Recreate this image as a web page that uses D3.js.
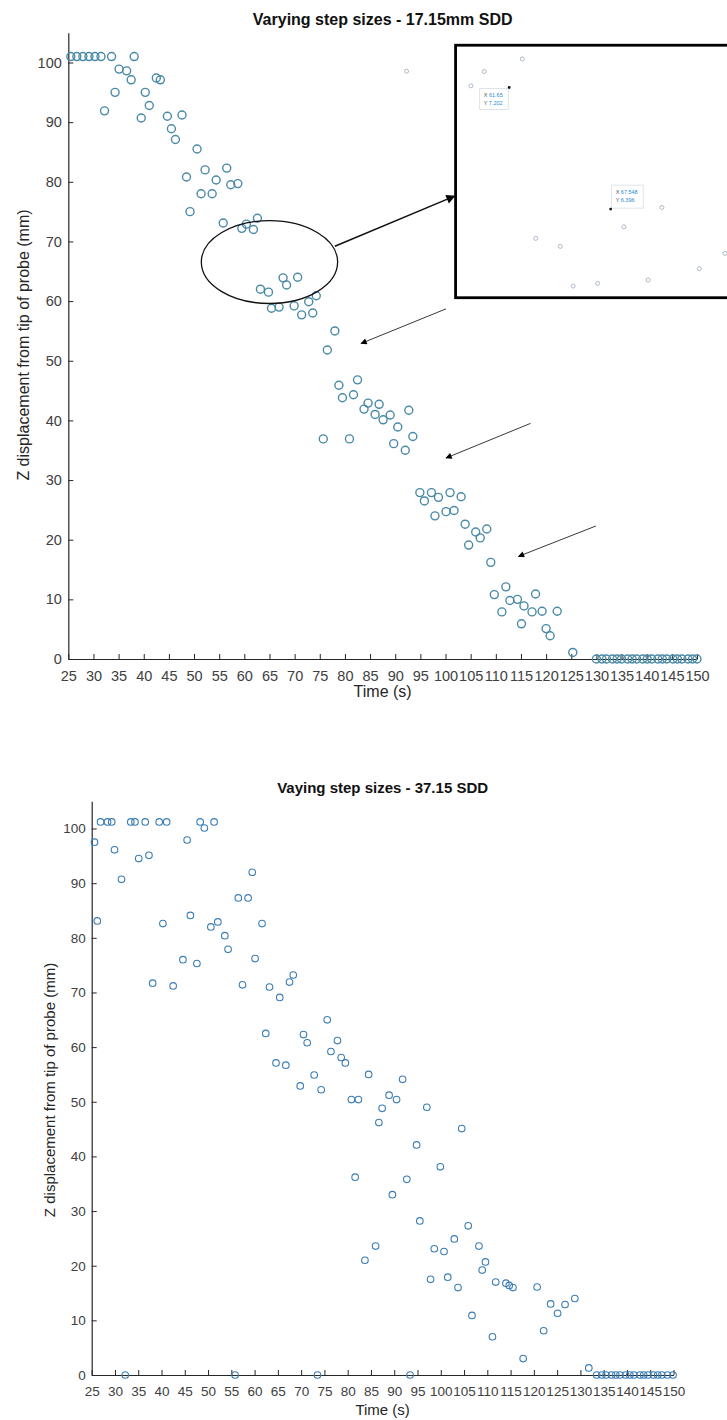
<!DOCTYPE html>
<html>
<head>
<meta charset="utf-8">
<script src="https://cdn.jsdelivr.net/npm/d3@7"></script>
<style>
  html, body { margin: 0; padding: 0; background: #fff; }
  svg { display: block; }
  text { font-family: "Liberation Sans", Arial, Helvetica, sans-serif; }
</style>
</head>
<body>
<svg id="fig" width="727" height="1420"></svg>
<script>
// ---- axis ticks ----
const timeTicks = [25, 30, 35, 40, 45, 50, 55, 60, 65, 70, 75, 80, 85, 90, 95, 100,
                   105, 110, 115, 120, 125, 130, 135, 140, 145, 150];
const depthTicks = [0, 10, 20, 30, 40, 50, 60, 70, 80, 90, 100];

// ---- measurements: [time (s), Z displacement (mm)] ----
const sdd17 = [
  [25.5,101],[26.7,101],[27.9,101],[29.1,101],[30.3,101],[31.5,101],[33.6,101],[38.1,101],
  [35.1,98.9],[36.6,98.6],[37.5,97.1],[34.3,95.0],[32.2,91.9],
  [42.5,97.4],[43.3,97.1],[40.3,95.0],[41.1,92.8],[39.5,90.7],[44.7,91.0],[47.6,91.2],[45.5,88.9],[46.3,87.1],
  [50.6,85.5],[48.5,80.8],[52.2,82.0],[56.5,82.3],[54.4,80.3],[57.3,79.5],[58.7,79.7],[51.4,78.0],[53.6,78.0],[49.2,75.0],
  [55.8,73.1],[59.5,72.2],[60.4,72.9],[61.8,72.0],[62.6,73.9],
  [67.7,63.9],[70.6,64.0],[68.4,62.7],[63.2,62.0],[64.8,61.5],[74.3,60.9],[72.8,59.9],[65.4,58.8],[66.9,59.0],[69.9,59.2],[71.4,57.7],[73.6,58.0],
  [78.0,55.0],[76.5,51.8],[78.8,45.9],[82.5,46.8],[79.5,43.8],[81.7,44.3],[84.6,42.9],[86.8,42.7],[83.8,41.9],[86.0,41.0],
  [87.6,40.1],[89.0,40.9],[92.7,41.7],[90.5,38.9],[93.5,37.3],[89.7,36.1],[92.0,35.0],[75.7,36.9],[80.9,36.9],
  [94.9,27.9],[97.2,27.9],[100.9,27.9],[95.8,26.5],[98.6,27.1],[103.1,27.2],[97.9,24.0],[100.1,24.7],[101.7,24.9],
  [103.9,22.6],[106.0,21.3],[108.2,21.8],[106.9,20.3],[104.6,19.1],[109.0,16.2],
  [112.0,12.1],[109.7,10.8],[112.8,9.8],[114.3,10.0],[117.9,10.9],[115.6,8.9],[117.2,7.9],[119.2,8.0],[122.2,8.0],
  [111.2,7.9],[115.1,5.9],[120.0,5.1],[120.8,3.9],[125.3,1.1],
  [130.0,0],[131.1,0],[132.0,0],[133.2,0],[134.1,0],[135.0,0],[136.2,0],[137.1,0],[138.0,0],[139.2,0],[140.1,0],
  [141.0,0],[142.2,0],[143.1,0],[144.0,0],[145.2,0],[146.1,0],[147.0,0],[148.2,0],[149.1,0],[150.0,0]
];

const sdd37 = [
  [26.9,101.2],[28.4,101.2],[29.3,101.2],[33.4,101.2],[34.3,101.2],[36.5,101.2],[39.5,101.2],[41.1,101.2],[48.3,101.2],[51.3,101.2],
  [25.6,97.5],[29.9,96.1],[31.4,90.7],[35.1,94.5],[37.3,95.1],[26.2,83.1],[40.3,82.6],[38.1,71.7],[42.5,71.2],
  [45.5,97.9],[49.2,100.1],[46.2,84.1],[44.6,76.0],[47.6,75.3],[50.6,82.0],[52.1,82.9],[53.6,80.4],[54.3,77.9],
  [56.5,87.3],[58.6,87.3],[59.5,92.0],[57.4,71.4],[60.1,76.2],[61.6,82.6],
  [68.3,73.2],[67.5,71.9],[63.2,71.0],[65.4,69.1],[75.6,65.0],[62.4,62.5],[70.5,62.3],[71.3,60.8],[77.8,61.2],
  [76.4,59.2],[78.6,58.1],[79.5,57.1],[64.6,57.1],[66.7,56.7],[72.8,54.9],[84.5,55.0],[91.8,54.1],
  [69.8,52.9],[74.3,52.2],[80.8,50.4],[82.3,50.4],[81.6,36.2],[32.2,0],[55.8,0],[73.5,0],
  [88.9,51.2],[90.5,50.4],[87.4,48.8],[86.7,46.2],[97.0,49.0],[104.5,45.1],[94.8,42.1],[99.9,38.1],[92.7,35.8],
  [89.6,33.0],[95.5,28.2],[105.9,27.3],[102.9,24.9],[86.0,23.6],[83.7,21.0],[98.6,23.1],[100.7,22.6],[108.2,23.6],
  [109.6,20.7],[108.9,19.2],[97.8,17.5],[101.5,17.9],[103.7,16.0],[111.8,17.0],[114.0,16.8],[114.7,16.4],[115.5,16.0],
  [120.7,16.1],[106.7,10.9],[111.1,7.0],[123.6,13.0],[126.7,12.9],[128.8,14.0],[125.1,11.3],[122.1,8.1],[117.7,3.0],
  [131.8,1.3],[93.4,0],
  [133.5,0],[134.6,0],[135.5,0],[136.7,0],[137.6,0],[138.5,0],[139.7,0],[140.6,0],[141.5,0],[142.8,0],[143.6,0],
  [144.5,0],[145.7,0],[146.6,0],[147.5,0],[148.7,0],[149.9,0]
];

// ---- call-outs on the upper panel (in its data units) ----
const ellipseMark = { t: 65.0, z: 66.55, dt: 13.55, dz: 6.95 };
const zoomArrow = [[78.0, 69.2], [101.8, 77.6]];
const stepArrows = [
  [[100.1, 58.7], [83.2, 52.9]],
  [[116.9, 39.5], [100.1, 33.7]],
  [[129.9, 22.3], [114.5, 17.2]]
];
// frame of the magnified view; it runs past the right edge of the figure
const insetFrame = { t0: 102.0, t1: 158.0, z0: 60.57, z1: 102.9 };
// span of the upper panel's time axis covered by the magnified view's x range
const insetSpan = [102.0, 155.95];
const insetXDomain = [58.53, 74.31];
const insetYDomain = [5.809, 7.482];
const insetPts = [
  [62.41,7.391],[60.20,7.308],[59.42,7.213],[70.53,6.407],[68.32,6.279],[63.19,6.202],
  [64.62,6.149],[74.20,6.103],[72.70,6.001],[69.73,5.926],[65.37,5.886],[66.79,5.904],[55.68,7.310]
];
const dataTips = [
  { x: 61.65, y: 7.202, xs: "61.65", ys: "7.202" },
  { x: 67.548, y: 6.396, xs: "67.548", ys: "6.396" }
];

const svg = d3.select("#fig");

function panel(cfg) {
  const x = d3.scaleLinear().domain([25, 150]).range([cfg.left, cfg.right]);
  const y = d3.scaleLinear().domain([0, 105]).range([cfg.bottom, cfg.top]);
  const g = svg.append("g");

  const xAxis = g.append("g")
    .attr("transform", `translate(0,${cfg.bottom})`)
    .call(d3.axisBottom(x).tickValues(timeTicks).tickFormat(d3.format("d"))
      .tickSizeInner(-cfg.tick).tickSizeOuter(0).tickPadding(cfg.xPad));
  const yAxis = g.append("g")
    .attr("transform", `translate(${cfg.left},0)`)
    .call(d3.axisLeft(y).tickValues(depthTicks).tickFormat(d3.format("d"))
      .tickSizeInner(-cfg.tick).tickSizeOuter(0).tickPadding(cfg.yPad));
  [xAxis, yAxis].forEach(a => {
    a.select(".domain").attr("stroke", "#262626").attr("stroke-width", 1.2);
    a.selectAll(".tick line").attr("stroke", "#262626").attr("stroke-width", 1);
    a.selectAll(".tick text").attr("fill", "#404040")
      .style("font-size", cfg.tickFont + "px")
      .style("font-family", '"Liberation Sans", Arial, sans-serif');
  });

  g.append("g").selectAll("circle").data(cfg.data).join("circle")
    .attr("cx", d => x(d[0])).attr("cy", d => y(d[1]))
    .attr("r", cfg.r)
    .attr("fill", "none").attr("stroke", cfg.color).attr("stroke-width", cfg.sw);

  const cx = (cfg.left + cfg.right) / 2;
  g.append("text").attr("x", cx).attr("y", cfg.titleY)
    .attr("text-anchor", "middle").attr("font-weight", "bold")
    .style("font-size", cfg.titleFont + "px").attr("fill", "#111").text(cfg.title);
  g.append("text").attr("x", cx).attr("y", cfg.xLabelY)
    .attr("text-anchor", "middle").style("font-size", cfg.labelFont + "px")
    .attr("fill", "#262626").text("Time (s)");
  g.append("text")
    .attr("transform", `translate(${cfg.yLabelX},${cfg.yLabelCY}) rotate(-90)`)
    .attr("text-anchor", "middle").style("font-size", cfg.labelFont + "px")
    .attr("fill", "#262626").text("Z displacement from tip of probe (mm)");
  return { x, y, g };
}

const top17 = panel({
  data: sdd17, left: 68.3, right: 697, top: 32.7, bottom: 659,
  tick: 5, xPad: 11.5, yPad: 6.5, tickFont: 14.5, r: 4, sw: 1.4, color: "#4a8aa6",
  title: "Varying step sizes - 17.15mm SDD", titleY: 25, titleFont: 16,
  xLabelY: 697, yLabelX: 28.5, yLabelCY: 345, labelFont: 16
});

panel({
  data: sdd37, left: 91.7, right: 673.5, top: 801.2, bottom: 1375,
  tick: 5, xPad: 11.5, yPad: 6, tickFont: 13.5, r: 3.3, sw: 1.1, color: "#3b7db3",
  title: "Vaying step sizes - 37.15 SDD", titleY: 793, titleFont: 15,
  xLabelY: 1415, yLabelX: 55, yLabelCY: 1090, labelFont: 15
});

// ---- call-outs ----
const defs = svg.append("defs");
defs.append("marker").attr("id", "headBig").attr("viewBox", "0 0 10 10")
  .attr("refX", 9).attr("refY", 5).attr("markerWidth", 7).attr("markerHeight", 6)
  .attr("markerUnits", "strokeWidth").attr("orient", "auto")
  .append("path").attr("d", "M0,0 L10,5 L0,10 Z").attr("fill", "#000");
defs.append("marker").attr("id", "headThin").attr("viewBox", "0 0 10 10")
  .attr("refX", 9).attr("refY", 5).attr("markerWidth", 9).attr("markerHeight", 7)
  .attr("markerUnits", "strokeWidth").attr("orient", "auto")
  .append("path").attr("d", "M0,0 L10,5 L0,10 Z").attr("fill", "#000");

const X = top17.x, Y = top17.y, ann = top17.g.append("g");

// frame with the magnified view
const fx0 = X(insetFrame.t0), fx1 = X(insetFrame.t1), fy0 = Y(insetFrame.z1), fy1 = Y(insetFrame.z0);
ann.append("rect").attr("x", fx0).attr("y", fy0).attr("width", fx1 - fx0).attr("height", fy1 - fy0)
  .attr("fill", "#fff").attr("stroke", "#000").attr("stroke-width", 2.8);

const ix = d3.scaleLinear().domain(insetXDomain).range([X(insetSpan[0]), X(insetSpan[1])]);
const iy = d3.scaleLinear().domain(insetYDomain).range([fy1, fy0]);

ann.append("g").selectAll("circle").data(insetPts).join("circle")
  .attr("cx", d => ix(d[0])).attr("cy", d => iy(d[1])).attr("r", 2)
  .attr("fill", "none").attr("stroke", "#9aaabb").attr("stroke-width", 0.8);

dataTips.forEach((d, i) => {
  const px = ix(d.x), py = iy(d.y);
  const w = i === 0 ? 28.5 : 31.5, h = i === 0 ? 21 : 23;
  const bx = i === 0 ? px - 1 - w : px + 1;
  const by = i === 0 ? py + 1 : py - 1 - h;
  ann.append("rect").attr("x", bx).attr("y", by).attr("width", w).attr("height", h)
    .attr("fill", "#fff").attr("stroke", "#d6dde6").attr("stroke-width", 0.8);
  const t = ann.append("text").attr("x", bx + 4).attr("y", by + 9).style("font-size", "5.5px");
  t.append("tspan").attr("fill", "#555").text("X ");
  t.append("tspan").attr("fill", "#2a8ad0").text(d.xs);
  const t2 = ann.append("text").attr("x", bx + 4).attr("y", by + 17).style("font-size", "5.5px");
  t2.append("tspan").attr("fill", "#555").text("Y ");
  t2.append("tspan").attr("fill", "#2a8ad0").text(d.ys);
  ann.append("circle").attr("cx", px).attr("cy", py).attr("r", 1.4).attr("fill", "#111");
});

// highlighted group
ann.append("ellipse")
  .attr("cx", X(ellipseMark.t)).attr("cy", Y(ellipseMark.z))
  .attr("rx", X(ellipseMark.t + ellipseMark.dt) - X(ellipseMark.t))
  .attr("ry", Y(ellipseMark.z) - Y(ellipseMark.z + ellipseMark.dz))
  .attr("fill", "none").attr("stroke", "#111").attr("stroke-width", 1.3);

ann.append("line")
  .attr("x1", X(zoomArrow[0][0])).attr("y1", Y(zoomArrow[0][1]))
  .attr("x2", X(zoomArrow[1][0])).attr("y2", Y(zoomArrow[1][1]))
  .attr("stroke", "#111").attr("stroke-width", 1.5).attr("marker-end", "url(#headBig)");

stepArrows.forEach(a => {
  ann.append("line")
    .attr("x1", X(a[0][0])).attr("y1", Y(a[0][1]))
    .attr("x2", X(a[1][0])).attr("y2", Y(a[1][1]))
    .attr("stroke", "#222").attr("stroke-width", 0.9).attr("marker-end", "url(#headThin)");
});
</script>
</body>
</html>
